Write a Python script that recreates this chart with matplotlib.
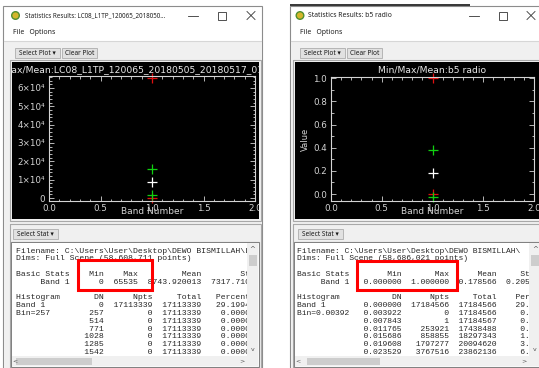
import numpy as np
import matplotlib
matplotlib.use("Agg")
import matplotlib.pyplot as plt
from matplotlib.patches import Rectangle, Circle
from matplotlib.lines import Line2D
from matplotlib.ticker import FixedLocator, MultipleLocator, FuncFormatter

W, H = 539, 368
RED = '#e01010'
GREEN = '#10d010'
AXC = '#d4d4d4'
UI = ['Noto Sans', 'DejaVu Sans']
MONO = 'Liberation Mono'

# ---- left window : LC08 band, raw DN ----
l_win_title = "Statistics Results: LC08_L1TP_120065_2018050..."
l_plot_title = "Min/Max/Mean:LC08_L1TP_120065_20180505_20180517_01_T1_B5"
l_file = "C:\\Users\\User\\Desktop\\DEWO BISMILLAH\\LC08_L1TP_120065_20180505_20180517_01_T1_B5.TIF"
l_points = "58,608,711"
l_band = [1.0]
l_min = [0]
l_max = [65535]
l_mean = [8743.920013]
l_stdev = [7317.71]
l_bin = "257"
l_dn = [0, 257, 514, 771, 1028, 1285, 1542]
l_npts = [17113339, 0, 0, 0, 0, 0, 0]
l_total = [17113339, 17113339, 17113339, 17113339, 17113339, 17113339, 17113339]
l_pct = ["29.1994", "0.0000", "0.0000", "0.0000", "0.0000", "0.0000", "0.0000"]
l_yticks = [0, 10000, 20000, 30000, 40000, 50000, 60000]

# ---- right window : b5 radiance ----
r_win_title = "Statistics Results: b5 radio"
r_plot_title = "Min/Max/Mean:b5 radio"
r_file = "C:\\Users\\User\\Desktop\\DEWO BISMILLAH\\"
r_points = "58,686,021"
r_band = [1.0]
r_min = [0.0]
r_max = [1.0]
r_mean = [0.178566]
r_stdev = [0.205]
r_bin = "0.00392"
r_dn = [0.000000, 0.003922, 0.007843, 0.011765, 0.015686, 0.019608, 0.023529]
r_npts = [17184566, 0, 1, 253921, 858855, 1797277, 3767516]
r_total = [17184566, 17184566, 17184567, 17438488, 18297343, 20094620, 23862136]
r_pct = ["29.2822", "0.0000", "0.0000", "0.4327", "1.4635", "3.0625", "6.4198"]
r_yticks = [0.0, 0.2, 0.4, 0.6, 0.8, 1.0]

x_ticks = [0.0, 0.5, 1.0, 1.5, 2.0]


def left_lines():
    out = ["Filename: " + l_file,
           f"Dims: Full Scene ({l_points} points)", "",
           f"{'Basic Stats':<11}{'Min':>7}{'Max':>7}{'Mean':>13}{'Stdev':>13}",
           f"{'Band 1':>11}{l_min[0]:>7d}{l_max[0]:>7d}{l_mean[0]:>13.6f}{l_stdev[0]:>13.6f}",
           "",
           f"{'Histogram':<11}{'DN':>7}{'Npts':>10}{'Total':>10}{'Percent':>10}"]
    labs = ["Band 1", "Bin=" + l_bin] + [""] * (len(l_dn) - 2)
    for lab, dn, n, t, p in zip(labs, l_dn, l_npts, l_total, l_pct):
        out.append(f"{lab:<11}{dn:>7d}{n:>10d}{t:>10d}{p:>10}")
    return out


def right_lines():
    out = ["Filename: " + r_file,
           f"Dims: Full Scene ({r_points} points)", "",
           f"{'Basic Stats':<11}{'Min':>11}{'Max':>10}{'Mean':>10}{'Stdev':>10}",
           f"{'Band 1':>11}{r_min[0]:>11.6f}{r_max[0]:>10.6f}{r_mean[0]:>10.6f}{r_stdev[0]:>10.6f}",
           "",
           f"{'Histogram':<11}{'DN':>11}{'Npts':>10}{'Total':>10}{'Percent':>11}"]
    labs = ["Band 1", "Bin=" + r_bin] + [""] * (len(r_dn) - 2)
    for lab, dn, n, t, p in zip(labs, r_dn, r_npts, r_total, r_pct):
        out.append(f"{lab:<11}{dn:>11.6f}{n:>10d}{t:>10d}{p:>11}")
    return out


fig = plt.figure(figsize=(W / 100, H / 100), dpi=100, facecolor='white')


def px_axes(x0, y0, x1, y1, z=1):
    return fig.add_axes([x0 / W, 1 - y1 / H, (x1 - x0) / W, (y1 - y0) / H], zorder=z)


def px_panel(x0, y0, x1, y1, fc, z=1):
    ax = px_axes(x0, y0, x1, y1, z)
    ax.set_xlim(x0, x1)
    ax.set_ylim(y1, y0)
    ax.set_facecolor(fc)
    ax.set_xticks([])
    ax.set_yticks([])
    for s in ax.spines.values():
        s.set_visible(False)
    return ax


base = px_panel(0, 0, W, H, 'white', z=0)
over = px_panel(0, 0, W, H, 'none', z=5)
over.patch.set_alpha(0)


def rect(ax, x0, y0, x1, y1, fc='none', ec='none', lw=0.8):
    ax.add_patch(Rectangle((x0, y0), x1 - x0, y1 - y0, fc=fc, ec=ec, lw=lw))


def button(x0, y0, x1, y1, label):
    rect(base, x0, y0, x1, y1, fc='#e1e1e1', ec='#adadad', lw=0.6)
    base.text((x0 + x1) / 2, (y0 + y1) / 2 + 0.3, label, fontsize=4.7, family=UI,
              ha='center', va='center', color='#1a1a1a')


def chrome(g):
    x0, x1 = g['x0'], g['x1']
    rect(base, x0, 6, x1, 372, fc='white', ec='#8c8c8c', lw=0.8)
    base.add_patch(Circle((g['icon'], 15.5), 3.8, fc='#d4b62a', ec='#4f8f2f', lw=1.0))
    base.text(g['title_x'], 15.5, g['title'], fontsize=g['tsize'], family=UI, ha='left',
              va='center', color='#202020')
    mx, bx, cx = g['ctrl']
    base.add_line(Line2D([mx - 5, mx + 5], [15.5, 15.5], color='#333333', lw=0.6))
    rect(base, bx - 4, 11.5, bx + 4, 19.5, ec='#333333', lw=0.6)
    base.add_line(Line2D([cx - 4, cx + 4], [11.5, 19.5], color='#333333', lw=0.6))
    base.add_line(Line2D([cx - 4, cx + 4], [19.5, 11.5], color='#333333', lw=0.6))
    base.text(x0 + 10, 33, "File   Options", fontsize=5.0, family=UI, ha='left',
              va='center', color='#202020')
    rect(base, x0 + 1, 41, x1 - 0.5, 372, fc='#f0f0f0')
    base.add_line(Line2D([x0 + 1, x1 - 1], [41, 41], color='#d6d6d6', lw=0.8))
    button(g['btn'], 48, g['btn'] + 45, 57.5, "Select Plot \u25be")
    button(g['btn'] + 47, 48, g['btn'] + 82, 57.5, "Clear Plot")
    rect(base, g['in0'], 60, g['in1'], 221, ec='#a8a8a8', lw=0.8)
    rect(base, g['in0'], 223.5, g['in1'], 372, ec='#a8a8a8', lw=0.8)
    button(g['sel'], 229, g['sel'] + 45, 239, "Select Stat \u25be")
    t0, t1, sb = g['txt0'], g['txt1'], g['sb1']
    rect(base, t0 - 1, 242, sb + 1, 366.5, fc='white', ec='#828282', lw=0.8)
    rect(base, t1, 243, sb, 356, fc='#f0f0f0')
    rect(base, t1 + 1.5, 255, sb - 1.5, 266, fc='#cdcdcd')
    base.text((t1 + sb) / 2, 249, "^", fontsize=5, ha='center', va='center', color='#555555')
    base.text((t1 + sb) / 2, 349.5, "v", fontsize=4.5, ha='center', va='center', color='#555555')
    rect(base, t0, 356, sb, 366, fc='#f0f0f0')
    rect(base, g['hth'][0], 357.5, g['hth'][1], 365, fc='#cdcdcd')
    base.text(t0 + 3, 361, "<", fontsize=4.5, ha='center', va='center', color='#555555')
    base.text(t1 - 5, 361, ">", fontsize=4.5, ha='center', va='center', color='#555555')


def text_panel(g, lines, size):
    tp = px_panel(g['txt0'], 243, g['txt1'], 356, 'white', z=1)
    for i, line in enumerate(lines):
        if line:
            tp.text(g['tx'], 250 + 7.8 * i + 2.6, line, family=MONO, fontsize=size,
                    ha='left', va='baseline', color='#262626', clip_on=True)


def stats_plot(g, rect_px, band, vmin, vmax, vmean, vstd, ylim, yticks, yminor, yfmt):
    bg = px_panel(g['blk0'], 62, g['blk1'], 219, 'black', z=1)
    ax = px_axes(*rect_px, z=2)
    ax.set_facecolor('black')
    b = np.array(band)
    mean = np.array(vmean)
    std = np.array(vstd)
    kw = dict(ls='none', marker='+', ms=6.5, mew=0.9, clip_on=False)
    ax.plot(b, vmax, color=RED, **kw)
    ax.plot(b, vmin, color=RED, **kw)
    ax.plot(b, mean + std, color=GREEN, **kw)
    ax.plot(b, mean - std, color=GREEN, **kw)
    ax.plot(b, mean, color='white', **kw)
    ax.set_xlim(0, 2)
    ax.set_ylim(*ylim)
    ax.xaxis.set_major_locator(FixedLocator(x_ticks))
    ax.xaxis.set_minor_locator(MultipleLocator(0.1))
    ax.xaxis.set_major_formatter(FuncFormatter(lambda v, p: f"{v:.1f}"))
    ax.yaxis.set_major_locator(FixedLocator(yticks))
    ax.yaxis.set_minor_locator(MultipleLocator(yminor))
    ax.yaxis.set_major_formatter(FuncFormatter(yfmt))
    ax.tick_params(which='both', direction='in', top=True, right=True, colors=AXC,
                   labelcolor=AXC, labelsize=6.3, width=0.6)
    ax.tick_params(which='major', length=3.5, pad=2)
    ax.tick_params(which='minor', length=1.8)
    ax.tick_params(axis='y', pad=3)
    for s in ax.spines.values():
        s.set_color(AXC)
        s.set_linewidth(0.8)
    ax.set_xlabel("Band Number", fontsize=6.5, color=AXC)
    ax.xaxis.set_label_coords(0.5, -0.045)
    ax.set_ylabel("Value", fontsize=6.0, color=AXC)
    ax.yaxis.set_label_coords(g['ylab'], 0.5)
    ax.yaxis.label.set_clip_path(bg.patch)
    for t in ax.xaxis.get_major_ticks():
        t.label1.set_clip_path(bg.patch)
    return bg, ax


# ---------------- left window ----------------
gl = dict(x0=3, x1=262, icon=15.5, title_x=25, title=l_win_title, tsize=4.5,
          ctrl=(193, 222, 251), btn=15, sel=13, in0=10, in1=261, blk0=12, blk1=259,
          txt0=12, txt1=247, sb1=258, tx=16, hth=(16, 92), ylab=-0.17)
chrome(gl)
bgl, axl = stats_plot(gl, (49, 76, 255, 201), l_band, l_min, l_max, l_mean, l_stdev,
                      (-1600, 66500), l_yticks, 2000,
                      lambda v, p: "0" if v == 0 else f"{int(round(v / 1e4))}\u00d710\u2074")
bgl.text(-16, 70, l_plot_title, fontsize=6.7, color='#e8e8e8', ha='left', va='center',
         clip_on=True)
text_panel(gl, left_lines(), 5.9)
rect(over, 78, 260, 152, 290, ec='#ff0000', lw=2.2)

# ---------------- right window ----------------
gr = dict(x0=290, x1=545, icon=300, title_x=308, title=r_win_title, tsize=4.9,
          ctrl=(474, 503, 531), btn=300, sel=298, in0=293, in1=545, blk0=295, blk1=541,
          txt0=295, txt1=529, sb1=541, tx=297, hth=(307, 380), ylab=-0.105)
chrome(gr)
bgr, axr = stats_plot(gr, (331, 77, 534, 201), r_band, r_min, r_max, r_mean, r_stdev,
                      (-0.06, 1.01), r_yticks, 0.1, lambda v, p: f"{v:.1f}")
bgr.text(432.5, 70, r_plot_title, fontsize=6.7, color='#e8e8e8', ha='center', va='center',
         clip_on=True)
text_panel(gr, right_lines(), 5.72)
rect(over, 357, 261, 457, 290, ec='#ff0000', lw=2.2)

# dark strip above right window
rect(base, 290, 3.5, 470, 5.5, fc='#3a3a3a')

fig.savefig("out.png", dpi=100, facecolor='white')
